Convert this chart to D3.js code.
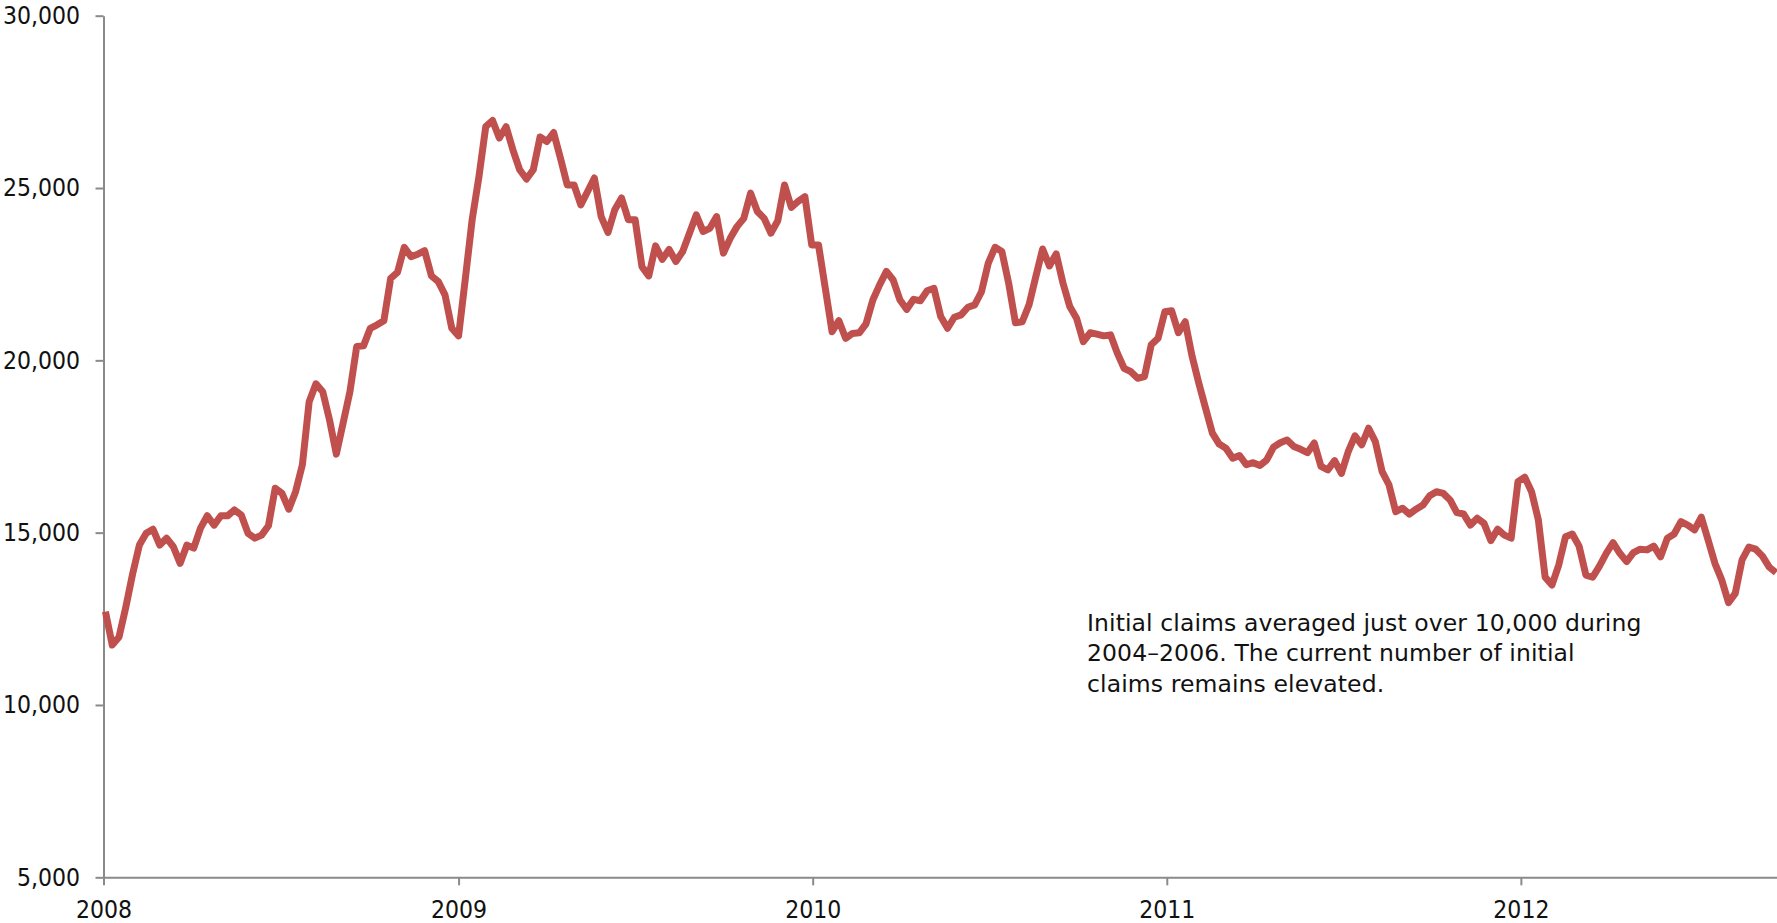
<!DOCTYPE html>
<html>
<head>
<meta charset="utf-8">
<script src="https://cdn.jsdelivr.net/npm/d3@7"></script>
<style>
  html, body { margin: 0; padding: 0; background: #fff; }
  svg { display: block; }
  text {
    font-family: "DejaVu Sans Condensed", "DejaVu Sans", sans-serif;
    font-stretch: condensed;
    fill: #111;
  }
  text.note {
    font-family: "DejaVu Sans", sans-serif;
    font-stretch: normal;
    font-size: 23.5px;
    letter-spacing: 0.1px;
  }
</style>
</head>
<body>
<svg id="chart" width="1777" height="923"></svg>
<script>
// Weekly initial claims, first week ending 2008-01-03
const firstWeek = new Date(2008, 0, 3);
const claims = [
  12710, 11740, 11970, 12840, 13800, 14640, 14980, 15100, 14640, 14840,
  14590, 14110, 14640, 14550, 15130, 15490, 15220, 15490, 15490, 15660,
  15510, 14980, 14840, 14930, 15200, 16290, 16140, 15680, 16190, 16970,
  18800, 19320, 19090, 18270, 17280, 18180, 19090, 20400,
  20420, 20930, 21030, 21150, 22380, 22550, 23280, 23010, 23080, 23180,
  22450, 22290, 21900, 20930, 20710, 22380, 24080, 25330, 26780, 26960,
  26450, 26780, 26110, 25530, 25260, 25530, 26480, 26350, 26610, 25870,
  25090, 25090, 24510, 24900, 25290, 24170, 23710, 24370, 24710,
  24080, 24080, 22720, 22450, 23320, 22930, 23220, 22870, 23160, 23690,
  24220, 23740, 23830, 24170, 23110, 23540, 23880, 24120, 24850, 24320,
  24120, 23690, 24050, 25090, 24440, 24610, 24750, 23350, 23350, 22090,
  20830, 21150, 20640, 20780, 20800, 21060, 21750, 22190,
  22580, 22330, 21750, 21480, 21770, 21730, 22020, 22090, 21270, 20930,
  21250, 21320, 21540, 21610, 21990, 22820, 23280, 23160, 22240, 21090,
  21120, 21610, 22430, 23230, 22740, 23090, 22240, 21560, 21220, 20540,
  20800, 20760, 20710, 20740, 20210, 19770, 19670, 19480,
  19530, 20450, 20640, 21410, 21440, 20800, 21120, 20130, 19340, 18610,
  17890, 17570, 17450, 17160, 17240, 16970, 17030, 16950, 17110, 17480,
  17610, 17690, 17500, 17420, 17320, 17600, 16920, 16820, 17090, 16720,
  17350, 17810, 17550, 18030, 17640, 16770, 16390, 15610,
  15710, 15540, 15680, 15800, 16070, 16190, 16140, 15950, 15580, 15540,
  15220, 15420, 15270, 14770, 15100, 14930, 14840, 16480, 16610, 16190,
  15370, 13710, 13480, 14060, 14880, 14960, 14610, 13770, 13710, 14030,
  14400, 14710, 14400, 14160, 14420, 14520, 14500, 14610, 14300,
  14840, 14960, 15320, 15220, 15080, 15450, 14790, 14110, 13630, 12970,
  13240, 14210, 14580, 14520, 14320, 14000, 13840
];
const weekDates = claims.map((_, i) => d3.timeDay.offset(firstWeek, 7 * i));

const yTickValues = [5000, 10000, 15000, 20000, 25000, 30000];
const xTickYears = [2008, 2009, 2010, 2011, 2012];
const annotationLines = [
  "Initial claims averaged just over 10,000 during",
  "2004–2006. The current number of initial",
  "claims remains elevated."
];

const svg = d3.select("#chart");

const x = d3.scaleTime()
  .domain([new Date(2008, 0, 1), new Date(2012, 8, 21)])
  .range([103.5, 1777]);

const y = d3.scaleLinear()
  .domain([5000, 30000])
  .range([877.3, 15.7]);

const axisColor = "#8a8a8a";

// Y axis
const yAxis = svg.append("g")
  .attr("transform", "translate(103.5,0)")
  .call(d3.axisLeft(y)
    .tickValues(yTickValues)
    .tickFormat(d3.format(","))
    .tickSize(8)
    .tickSizeOuter(0)
    .tickPadding(15.5));

// X axis
const xAxis = svg.append("g")
  .attr("transform", "translate(0,877.3)")
  .call(d3.axisBottom(x)
    .tickValues(xTickYears.map(yr => new Date(yr, 0, 1)))
    .tickFormat(d3.timeFormat("%Y"))
    .tickSize(8)
    .tickSizeOuter(0)
    .tickPadding(15));

[yAxis, xAxis].forEach(g => {
  g.select(".domain").attr("stroke", axisColor).attr("stroke-width", 2);
  g.selectAll(".tick line").attr("stroke", axisColor).attr("stroke-width", 2);
  g.selectAll(".tick text")
    .attr("fill", "#111")
    .style("font-size", "24.5px")
    .style("font-family", "'DejaVu Sans Condensed', 'DejaVu Sans', sans-serif");
});

// Claims line
const line = d3.line()
  .x((d, i) => x(weekDates[i]))
  .y(d => y(d));

svg.append("path")
  .datum(claims)
  .attr("fill", "none")
  .attr("stroke", "#C0504D")
  .attr("stroke-width", 7)
  .attr("stroke-linejoin", "round")
  .attr("d", line);

// Note text
const note = svg.append("text")
  .attr("class", "note")
  .attr("x", 1087)
  .attr("y", 630.5);

note.selectAll("tspan")
  .data(annotationLines)
  .join("tspan")
  .attr("x", 1087)
  .attr("dy", (d, i) => i === 0 ? 0 : 30.6)
  .text(d => d);
</script>
</body>
</html>
